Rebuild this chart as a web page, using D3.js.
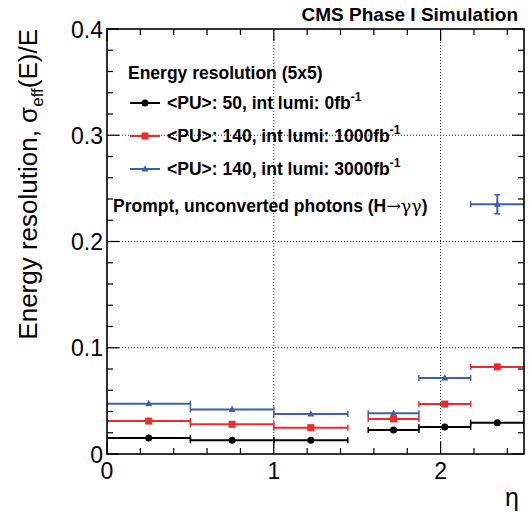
<!DOCTYPE html>
<html>
<head>
<meta charset="utf-8">
<script src="https://cdn.jsdelivr.net/npm/d3@7"></script>
<style>
  body { margin: 0; background: #fff; }
  text { font-family: "Liberation Sans", Helvetica, Arial, sans-serif; }
</style>
</head>
<body>
<svg id="drawing_region"></svg>
<script>
// eta bins (barrel 0-1.444, gap, endcap 1.566-2.5)
const etaLow    = [0.0, 0.5, 1.0, 1.566, 1.87, 2.18];
const etaHigh   = [0.5, 1.0, 1.444, 1.87, 2.18, 2.5];
const etaCenter = [0.25, 0.75, 1.222, 1.718, 2.025, 2.34];

const resPU50      = [0.015, 0.013, 0.013, 0.0226, 0.0254, 0.0295];
const errPU50      = [0.0008, 0.0008, 0.0008, 0.001, 0.001, 0.001];
const resPU140L1000 = [0.031, 0.028, 0.0248, 0.033, 0.047, 0.082];
const errPU140L1000 = [0.001, 0.001, 0.001, 0.001, 0.0015, 0.0015];
const resPU140L3000 = [0.0474, 0.042, 0.0376, 0.0383, 0.0715, 0.235];
const errPU140L3000 = [0.001, 0.001, 0.001, 0.001, 0.002, 0.009];

const seriesNames = ["<PU>: 50, int lumi: 0fb", "<PU>: 140, int lumi: 1000fb", "<PU>: 140, int lumi: 3000fb"];
const seriesColors = ["#000000", "#ee2a2a", "#3f5fae"];
const seriesMarkers = ["circle", "square", "triangle"];

const xTicks = [0, 1, 2];
const yTicks = [0, 0.1, 0.2, 0.3, 0.4];
const yTickLabels = ["0", "0.1", "0.2", "0.3", "0.4"];

const width = 529, height = 512;
const margin = { left: 107, right: 5, top: 29, bottom: 58 };

const svg = d3.select("#drawing_region")
    .attr("width", width)
    .attr("height", height);

svg.append("rect").attr("width", width).attr("height", height).attr("fill", "#fff");

const x = d3.scaleLinear().domain([0, 2.5]).range([margin.left, width - margin.right]);
const y = d3.scaleLinear().domain([0, 0.4]).range([height - margin.bottom, margin.top]);

const x0 = x.range()[0], x1 = x.range()[1];
const y0 = y.range()[0], y1 = y.range()[1];

svg.append("clipPath").attr("id", "frame-clip")
  .append("rect")
    .attr("x", x0).attr("y", y1)
    .attr("width", x1 - x0).attr("height", y0 - y1);

// dotted grid
const grid = svg.append("g")
    .attr("stroke", "#222")
    .attr("stroke-width", 1)
    .attr("stroke-dasharray", "1,2");
grid.selectAll(".gx").data(xTicks.filter(d => d > 0))
  .enter().append("line")
    .attr("x1", d => x(d)).attr("x2", d => x(d))
    .attr("y1", y0).attr("y2", y1);
grid.selectAll(".gy").data(yTicks.filter(d => d > 0 && d < 0.4))
  .enter().append("line")
    .attr("y1", d => y(d)).attr("y2", d => y(d))
    .attr("x1", x0).attr("x2", x1);

// ticks on all four sides (ROOT style)
const ticks = svg.append("g").attr("stroke", "#000").attr("stroke-width", 1.2);
const xMinor = d3.range(0, 2.5001, 0.2).filter(d => Math.abs(d - Math.round(d)) > 1e-6);
const yMinor = d3.range(0, 0.4001, 0.02).filter(d => Math.abs(d * 10 - Math.round(d * 10)) > 1e-6);

function xTick(d, len) {
  ticks.append("line").attr("x1", x(d)).attr("x2", x(d)).attr("y1", y0).attr("y2", y0 - len);
  ticks.append("line").attr("x1", x(d)).attr("x2", x(d)).attr("y1", y1).attr("y2", y1 + len);
}
function yTick(d, len) {
  ticks.append("line").attr("y1", y(d)).attr("y2", y(d)).attr("x1", x0).attr("x2", x0 + len);
  ticks.append("line").attr("y1", y(d)).attr("y2", y(d)).attr("x1", x1).attr("x2", x1 - len);
}
xTicks.forEach(d => xTick(d, 12));
xMinor.forEach(d => xTick(d, 6));
yTicks.forEach(d => yTick(d, 12));
yMinor.forEach(d => yTick(d, 6));

// tick labels
svg.selectAll(".xl").data(xTicks).enter().append("text")
    .attr("x", d => x(d)).attr("y", 479)
    .attr("text-anchor", "middle")
    .attr("font-size", 23)
    .text(d => d);
svg.selectAll(".yl").data(yTicks).enter().append("text")
    .attr("x", 103).attr("y", d => y(d) + 8.5)
    .attr("text-anchor", "end")
    .attr("font-size", 23)
    .text((d, i) => yTickLabels[i]);

// axis titles
svg.append("text")
    .attr("x", 512).attr("y", 506)
    .attr("text-anchor", "middle")
    .attr("font-size", 25)
    .attr("font-family", "DejaVu Serif, serif")
    .text("η");

const ytitle = svg.append("text")
    .attr("transform", `translate(37, ${y1}) rotate(-90)`)
    .attr("text-anchor", "end")
    .attr("font-size", 26);
ytitle.append("tspan").text("Energy resolution, σ");
ytitle.append("tspan").attr("font-size", 17).attr("dy", 6).text("eff");
ytitle.append("tspan").attr("dy", -6).text("(E)/E");

// markers
function drawMarker(g, type, cx, cy, color, s) {
  if (type === "circle") {
    g.append("circle").attr("cx", cx).attr("cy", cy).attr("r", s / 2).attr("fill", color);
  } else if (type === "square") {
    g.append("rect").attr("x", cx - s / 2).attr("y", cy - s / 2).attr("width", s).attr("height", s).attr("fill", color);
  } else {
    const h = s * 0.9;
    g.append("path")
      .attr("d", `M${cx},${cy - h * 0.6}L${cx + s / 2},${cy + h * 0.4}L${cx - s / 2},${cy + h * 0.4}Z`)
      .attr("fill", color);
  }
}

// data
const allSeries = [
  { vals: resPU50, errs: errPU50 },
  { vals: resPU140L1000, errs: errPU140L1000 },
  { vals: resPU140L3000, errs: errPU140L3000 }
];

const plot = svg.append("g").attr("clip-path", "url(#frame-clip)");
allSeries.forEach((s, k) => {
  const color = seriesColors[k];
  const g = plot.append("g").attr("stroke", color).attr("stroke-width", 2);
  s.vals.forEach((v, i) => {
    const cy = y(v);
    g.append("line").attr("x1", x(etaLow[i])).attr("x2", x(etaHigh[i])).attr("y1", cy).attr("y2", cy);
    [etaLow[i], etaHigh[i]].forEach(e => {
      g.append("line").attr("x1", x(e)).attr("x2", x(e)).attr("y1", cy - 3).attr("y2", cy + 3).attr("stroke-width", 1.5);
    });
    const ey0 = y(v - s.errs[i]), ey1 = y(v + s.errs[i]);
    g.append("line").attr("x1", x(etaCenter[i])).attr("x2", x(etaCenter[i])).attr("y1", ey0).attr("y2", ey1);
    if (ey0 - ey1 > 8) {
      [ey0, ey1].forEach(e => {
        g.append("line").attr("x1", x(etaCenter[i]) - 3).attr("x2", x(etaCenter[i]) + 3).attr("y1", e).attr("y2", e).attr("stroke-width", 1.5);
      });
    }
    drawMarker(plot, seriesMarkers[k], x(etaCenter[i]), cy, color, 7);
  });
});

// frame
svg.append("rect")
    .attr("x", x0).attr("y", y1)
    .attr("width", x1 - x0).attr("height", y0 - y1)
    .attr("fill", "none").attr("stroke", "#000").attr("stroke-width", 1.6);

// header
svg.append("text")
    .attr("x", 518).attr("y", 21)
    .attr("text-anchor", "end")
    .attr("font-size", 19).attr("font-weight", "bold")
    .text("CMS Phase I Simulation");

// legend
const legend = svg.append("g").attr("font-weight", "bold").attr("font-size", 17.5);
legend.append("text").attr("x", 128).attr("y", 79).text("Energy resolution (5x5)");
const legRows = [103, 136, 169];
seriesNames.forEach((name, k) => {
  const ly = legRows[k];
  legend.append("line")
      .attr("x1", 130).attr("x2", 160).attr("y1", ly).attr("y2", ly)
      .attr("stroke", seriesColors[k]).attr("stroke-width", 2);
  drawMarker(legend, seriesMarkers[k], 145, ly, seriesColors[k], 7);
  const t = legend.append("text").attr("x", 167).attr("y", ly + 6);
  t.append("tspan").text(name);
  t.append("tspan").attr("font-size", 12).attr("dy", -8).text("-1");
});
const prompt = legend.append("text").attr("x", 113).attr("y", 212);
prompt.append("tspan").text("Prompt, unconverted photons (H");
prompt.append("tspan").attr("font-weight", "normal").attr("font-family", "DejaVu Serif, serif").text("→γγ");
prompt.append("tspan").text(")");
</script>
</body>
</html>
